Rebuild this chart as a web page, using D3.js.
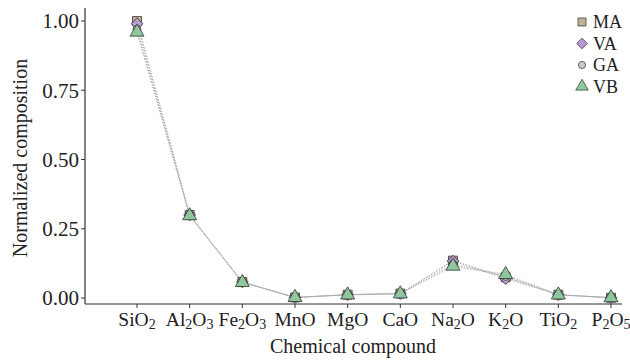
<!DOCTYPE html>
<html>
<head>
<meta charset="utf-8">
<script src="https://cdn.jsdelivr.net/npm/d3@7"></script>
<style>
  html, body { margin: 0; padding: 0; background: #fff; }
  svg text { font-family: "Liberation Serif", "DejaVu Serif", serif; fill: #222; }
</style>
</head>
<body>
<svg id="chart" width="630" height="360"></svg>
<script>
// compounds on the x axis (subscripts split out for tspans)
const compounds = ['SiO2', 'Al2O3', 'Fe2O3', 'MnO', 'MgO', 'CaO', 'Na2O', 'K2O', 'TiO2', 'P2O5'];
const yTicks = [0, 0.25, 0.5, 0.75, 1.0];

const seriesNames = ['MA', 'VA', 'GA', 'VB'];
const valuesMA = [1.00, 0.300, 0.058, 0.002, 0.012, 0.016, 0.135, 0.075, 0.012, 0.001];
const valuesVA = [0.99, 0.300, 0.058, 0.002, 0.012, 0.016, 0.133, 0.070, 0.012, 0.001];
const valuesGA = [0.97, 0.298, 0.057, 0.002, 0.012, 0.016, 0.122, 0.078, 0.012, 0.001];
const valuesVB = [0.96, 0.297, 0.056, 0.002, 0.011, 0.015, 0.115, 0.085, 0.011, 0.001];

const seriesValues = [valuesMA, valuesVA, valuesGA, valuesVB];
const seriesFill = ['#c2b294', '#b99bd3', '#c9c9c9', '#8fc79c'];
const seriesSymbol = [d3.symbolSquare, d3.symbolSquare, d3.symbolCircle, d3.symbolTriangle];
const seriesRotate = [0, 45, 0, 0];
const seriesSize = [80, 70, 50, 85];

const svg = d3.select('#chart');

const x = d3.scalePoint().domain(compounds).range([137, 611]);
const y = d3.scaleLinear().domain([0, 1]).range([298, 21]);

const axisLeft = 85, axisBottom = 304;

// axes lines
svg.append('line')
  .attr('x1', axisLeft).attr('x2', axisLeft)
  .attr('y1', 8).attr('y2', axisBottom)
  .attr('stroke', '#333').attr('stroke-width', 1.2);
svg.append('line')
  .attr('x1', axisLeft).attr('x2', 622)
  .attr('y1', axisBottom).attr('y2', axisBottom)
  .attr('stroke', '#333').attr('stroke-width', 1.2);

// y ticks
const yt = svg.append('g');
yt.selectAll('line').data(yTicks).join('line')
  .attr('x1', axisLeft - 4).attr('x2', axisLeft)
  .attr('y1', d => y(d)).attr('y2', d => y(d))
  .attr('stroke', '#333');
yt.selectAll('text').data(yTicks).join('text')
  .attr('x', axisLeft - 6).attr('y', d => y(d))
  .attr('dy', '0.35em')
  .attr('text-anchor', 'end')
  .attr('font-size', 21)
  .text(d => d3.format('.2f')(d));

// x ticks
const xt = svg.append('g');
xt.selectAll('line').data(compounds).join('line')
  .attr('x1', d => x(d)).attr('x2', d => x(d))
  .attr('y1', axisBottom).attr('y2', axisBottom + 4)
  .attr('stroke', '#333');

const xLabels = xt.selectAll('text').data(compounds).join('text')
  .attr('x', d => x(d)).attr('y', axisBottom + 22)
  .attr('text-anchor', 'middle')
  .attr('font-size', 19.5);

xLabels.each(function(d) {
  const t = d3.select(this);
  // split formula into element symbols and digit subscripts
  d.match(/[A-Za-z]+|\d+/g).forEach(part => {
    if (/\d/.test(part)) {
      t.append('tspan').attr('baseline-shift', '-22%').attr('font-size', 14).text(part);
    } else {
      t.append('tspan').text(part);
    }
  });
});

// axis titles
svg.append('text')
  .attr('x', 353).attr('y', 353)
  .attr('text-anchor', 'middle')
  .attr('font-size', 20)
  .text('Chemical compound');
svg.append('text')
  .attr('transform', 'translate(27,158) rotate(-90)')
  .attr('text-anchor', 'middle')
  .attr('font-size', 20)
  .text('Normalized composition');

// dotted lines
const line = d3.line()
  .x((d, i) => x(compounds[i]))
  .y(d => y(d));

svg.append('g').selectAll('path').data(seriesValues).join('path')
  .attr('d', d => line(d))
  .attr('fill', 'none')
  .attr('stroke', '#aaa')
  .attr('stroke-width', 1)
  .attr('stroke-dasharray', '1.5,1.5');

// markers
seriesValues.forEach((vals, s) => {
  svg.append('g').selectAll('path').data(vals).join('path')
    .attr('transform', (d, i) => `translate(${x(compounds[i])},${y(d)}) rotate(${seriesRotate[s]})`)
    .attr('d', d3.symbol().type(seriesSymbol[s]).size(seriesSize[s]))
    .attr('fill', seriesFill[s])
    .attr('stroke', '#333')
    .attr('stroke-width', 0.8);
});

// legend
const legend = svg.append('g');
seriesNames.forEach((name, s) => {
  const ly = 22 + s * 21.5;
  legend.append('path')
    .attr('transform', `translate(582,${ly}) rotate(${seriesRotate[s]})`)
    .attr('d', d3.symbol().type(seriesSymbol[s]).size(seriesSize[s] * 0.8))
    .attr('fill', seriesFill[s])
    .attr('stroke', '#444')
    .attr('stroke-width', 0.8);
  legend.append('text')
    .attr('x', 593).attr('y', ly)
    .attr('dy', '0.35em')
    .attr('font-size', 18)
    .text(name);
});
</script>
</body>
</html>
